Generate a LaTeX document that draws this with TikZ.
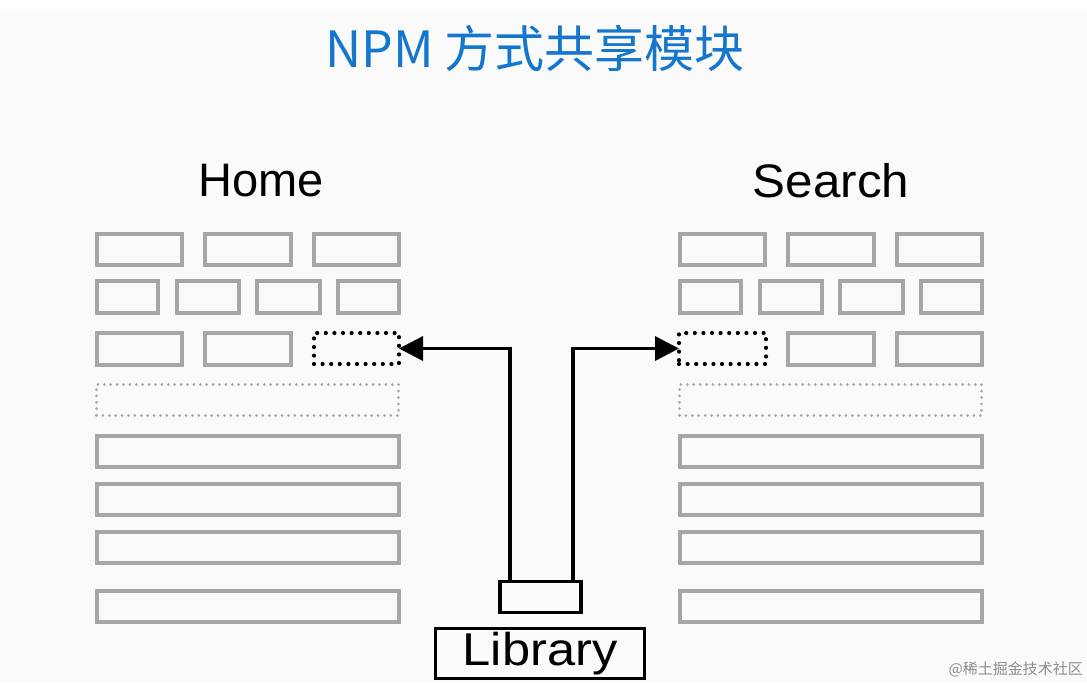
\documentclass[tikz,border=0pt]{standalone}
\usepackage{fontspec}
\setmainfont{Liberation Sans}
\newfontfamily\cjk{Noto Sans CJK SC}
\usetikzlibrary{arrows.meta}
\definecolor{titleblue}{RGB}{20,118,204}
\definecolor{boxgray}{RGB}{166,166,166}
\definecolor{bgc}{RGB}{250,250,250}
\begin{document}
\begin{tikzpicture}[x=1pt,y=-1pt,
  gbox/.style={draw=boxgray,line width=3.5pt,inner sep=0pt,outer sep=0pt,anchor=north west},
  slotbox/.style={draw=black,line width=4.2pt,dash pattern=on 0pt off 8.6pt,line cap=round,inner sep=0pt,outer sep=0pt,anchor=north west},
  gdots/.style={draw=boxgray,line width=3pt,dash pattern=on 0pt off 6.4pt,line cap=round,inner sep=0pt,outer sep=0pt,anchor=north west},
  arr/.style={draw=black,line width=3.5pt,-{Triangle[length=24pt,width=24pt]}},
  bbox/.style={draw=black,line width=3.5pt,inner sep=0pt,outer sep=0pt},
  lbl/.style={font=\fontsize{47}{56}\selectfont,text=black}]
\useasboundingbox (0,0) rectangle (1087,683);
\fill[bgc] (0,10) rectangle (1087,683);
\fill[white] (0,0) rectangle (1087,10);

% title
\node[font=\cjk\fontsize{50}{60}\selectfont,text=titleblue] (title) at (535,48) {NPM 方式共享模块};

% panel labels
\node[lbl] (home) at (261,181) {Home};
\node[lbl] (search) at (831,181) {\scalebox{1.05}[1]{Search}};

% grey boxes of both panels
\foreach \dx/\p in {0/L,583/R}{
  \foreach \x/\y/\w/\h/\n in {95/232/89/35/a,203/232/90/35/b,312/232/89/35/c,
      95/279/65/36/d,175/279/66/36/e,255/279/67/36/f,336/279/65/36/g,
      95/434/306/35/k,95/482/306/35/l,95/530/306/35/m,95/589/306/35/n}{
    \node[gbox,minimum width={(\w-4)*1pt},minimum height={(\h-4)*1pt}] (\p\n) at (\x+2+\dx,\y+2) {};
  }
  \node[gdots,minimum width=302pt,minimum height=31pt] (\p dots) at (96.5+\dx,384.5) {};
}
% row 3
\node[gbox,minimum width=85pt,minimum height=32pt] (Lh) at (97,333) {};
\node[gbox,minimum width=86pt,minimum height=32pt] (Li) at (205,333) {};
\node[slotbox,minimum width=85pt,minimum height=31pt] (hslot) at (314,333) {};
\node[slotbox,minimum width=87pt,minimum height=31pt] (sslot) at (679,333) {};
\node[gbox,minimum width=86pt,minimum height=32pt] (Ri) at (788,333) {};
\node[gbox,minimum width=85pt,minimum height=32pt] (Rj) at (897,333) {};

% library
\node[bbox,minimum width=81pt,minimum height=31pt] (pkg) at (540.5,597) {};
\node[bbox,minimum width=209pt,minimum height=50pt,font=\fontsize{46}{55}\selectfont] (lib) at (540,653.5) {\scalebox{1.1}[1]{Library}};

\draw[arr] ([xshift=10pt]pkg.north west) |- (hslot.east);
\draw[arr] ([xshift=-8pt]pkg.north east) |- (sslot.west);

% watermark
\node[font=\cjk\fontsize{15}{18}\selectfont,text=black!45,anchor=east,inner sep=0pt] (wm) at (1083,669) {@稀土掘金技术社区};
\end{tikzpicture}
\end{document}
